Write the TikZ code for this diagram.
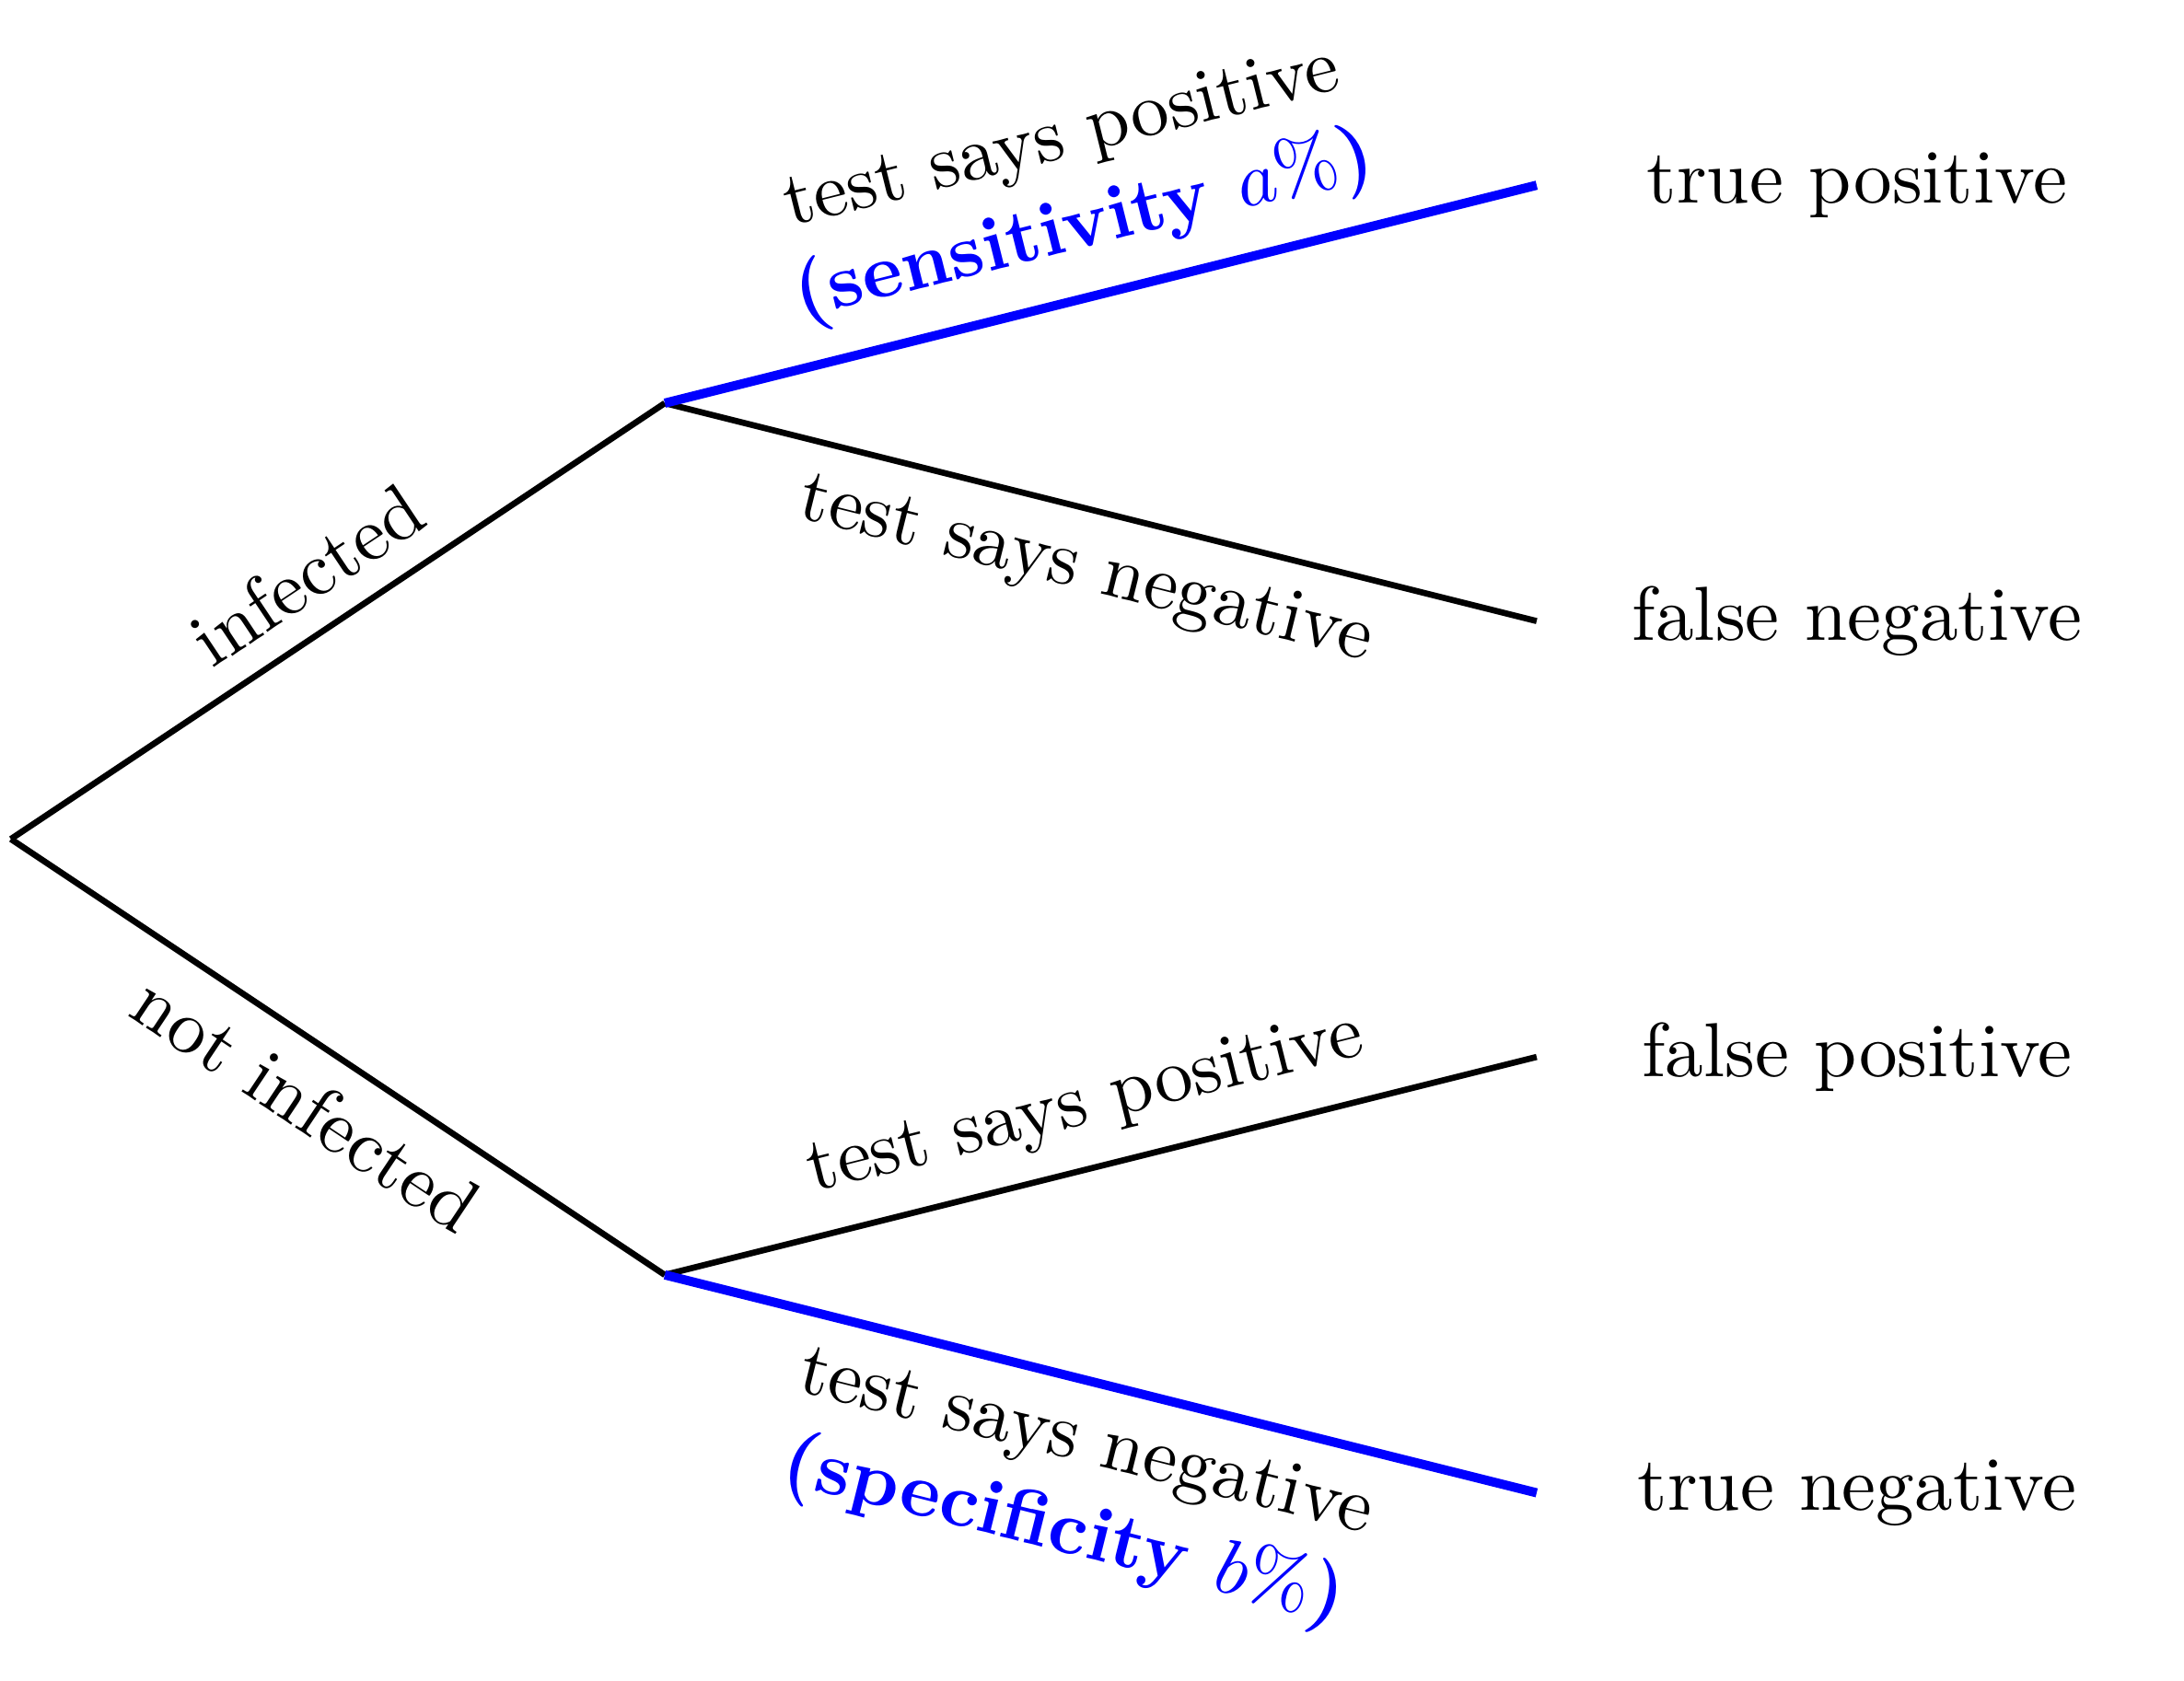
\documentclass[tikz,border=0pt]{standalone}
\usepackage{amsmath}
\usepackage{xcolor}
\usepackage{tikz}
\usetikzlibrary{positioning}

\begin{document}
\begin{tikzpicture}[
        % --- STYLE ---
        % Normal branch
        branch/.style={
            draw=black,
            thick
        },
        % Highlighted branch (sensitivity / specificity)
        keybranch/.style={
            draw=blue,
            line width=1.2pt
        },
        % Text along a branch
        edgelabel/.style={
            sloped,
            align=center
        },
        % Text at the end of a branch
        outcome/.style={
            align=center
        }
    ]
        \useasboundingbox (-0.05,-3.86) rectangle (9.97,3.85);

        % --- POINTS OF THE TREE ---
        \coordinate (root) at (0,0);
        \coordinate (inf) at (3,2);
        \coordinate (notinf) at (3,-2);
        \coordinate (tp) at (7,3);
        \coordinate (fn) at (7,1);
        \coordinate (fp) at (7,-1);
        \coordinate (tn) at (7,-3);

        % --- BRANCHES (BLACK) ---
        \draw[branch] (root) -- node[edgelabel, above] (infl) {infected} (inf);
        \draw[branch] (root) -- node[edgelabel, below] (notinfl) {not infected} (notinf);
        \draw[branch] (inf) -- node[edgelabel, below] (fnl) {test says negative} (fn);
        \draw[branch] (notinf) -- node[edgelabel, above] (fpl) {test says positive} (fp);

        % --- BRANCHES (BLUE) ---
        \draw[keybranch] (inf) -- node[edgelabel, above] (tpl)
            {test says positive\\\textcolor{blue}{\textbf{(sensitivity $a\%$)}}} (tp);
        \draw[keybranch] (notinf) -- node[edgelabel, below] (tnl)
            {test says negative\\\textcolor{blue}{\textbf{(specificity $b\%$)}}} (tn);

        % --- OUTCOMES ---
        \node[outcome] (tptext) at ([xshift=1.47cm]tp) {true positive};
        \node[outcome] (fntext) at ([xshift=1.47cm]fn) {false negative};
        \node[outcome] (fptext) at ([xshift=1.47cm]fp) {false positive};
        \node[outcome] (tntext) at ([xshift=1.47cm]tn) {true negative};

    \end{tikzpicture}
\end{document}
